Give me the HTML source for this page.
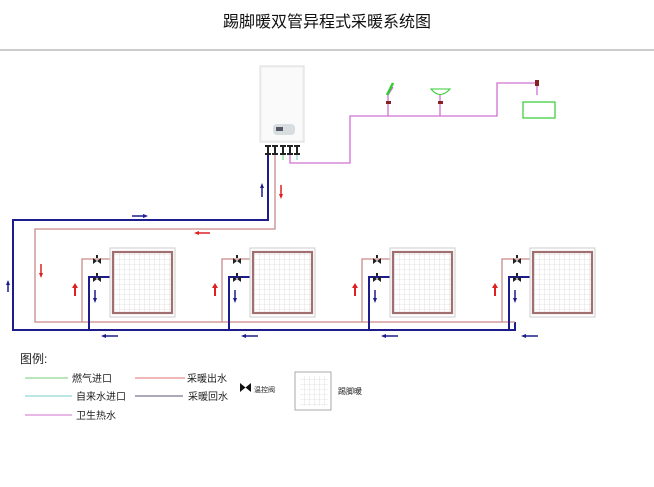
<!DOCTYPE html>
<html><head><meta charset="utf-8"><style>
body{margin:0;background:#fff;width:654px;height:487px;overflow:hidden}
svg{display:block}
text{font-family:"Liberation Sans","Noto Sans CJK SC",sans-serif}
</style></head><body>
<svg width="654" height="487" viewBox="0 0 654 487" xmlns="http://www.w3.org/2000/svg">
<defs>
<pattern id="g" width="5" height="5" patternUnits="userSpaceOnUse"><path d="M5 0V5M0 5H5" stroke="#ccc" stroke-width="0.6" fill="none"/></pattern>
<g id="valve"><path d="M-4 -3 L4 3 L4 -3 L-4 3Z" fill="#222"/><rect x="-1" y="-6" width="2" height="3" fill="#222"/></g>
<g id="rad">
<path d="M82 322 V259 H110" stroke="#c98a8a" stroke-width="1.3" fill="none"/>
<path d="M89 330 V277 H112 V282" stroke="#1c1c8c" stroke-width="2" fill="none"/>
<use href="#valve" x="97" y="261"/>
<use href="#valve" x="97" y="279"/>
<rect x="110" y="248" width="65" height="69" fill="#fff" stroke="#ccc" stroke-width="1"/>
<rect x="113" y="252" width="59" height="61" fill="url(#g)" stroke="#a07070" stroke-width="2.2"/>
<path d="M75 296 V285" stroke="#e02020" stroke-width="2"/><path d="M72 288 L75 283 L78 288Z" fill="#e02020"/>
<path d="M95 290 V300" stroke="#1c1c8c" stroke-width="1.5"/><path d="M93 298 L95 303 L97 298Z" fill="#1c1c8c"/>
<path d="M103 336 H118" stroke="#1c1c8c" stroke-width="1.5"/><path d="M106 334 L101 336 L106 338Z" fill="#1c1c8c"/>
</g>
</defs>
<text x="327" y="27" font-size="16" text-anchor="middle" fill="#111">踢脚暖双管异程式采暖系统图</text>
<line x1="0" y1="50" x2="654" y2="50" stroke="#999" stroke-width="1"/>
<!-- boiler -->
<rect x="260" y="66" width="44" height="76" fill="#f3f3f3" stroke="#ddd"/>
<rect x="262" y="68" width="40" height="72" fill="#fafafa"/>
<rect x="273" y="124" width="22" height="11" rx="4" fill="#d8dde0"/>
<rect x="276" y="127" width="7" height="4" fill="#556"/>
<!-- heating pipes -->
<path d="M268 150 V220 H13 V330 H515 V322" stroke="#1c1c8c" stroke-width="2" fill="none"/>
<path d="M275 150 V229 H35 V322 H515" stroke="#c98a8a" stroke-width="1.3" fill="none"/>
<use href="#rad"/>
<use href="#rad" x="140"/>
<use href="#rad" x="280"/>
<use href="#rad" x="420"/>
<!-- boiler fittings -->
<path d="M283 150 V160" stroke="#6c6" stroke-width="1"/>
<path d="M290 150 V163 H350 V116 H497 V83 H537 V95" stroke="#d070d0" stroke-width="1.3" fill="none"/>
<path d="M297 150 V160" stroke="#6cc" stroke-width="1"/>
<g fill="#222"><rect x="265" y="145" width="6" height="2"/><rect x="265" y="153" width="6" height="2"/><rect x="267" y="145" width="2" height="10"/>
<rect x="272" y="145" width="6" height="2"/><rect x="272" y="153" width="6" height="2"/><rect x="274" y="145" width="2" height="10"/>
<rect x="280" y="145" width="6" height="2"/><rect x="280" y="153" width="6" height="2"/><rect x="282" y="145" width="2" height="10"/>
<rect x="287" y="145" width="6" height="2"/><rect x="287" y="153" width="6" height="2"/><rect x="289" y="145" width="2" height="10"/>
<rect x="294" y="145" width="6" height="2"/><rect x="294" y="153" width="6" height="2"/><rect x="296" y="145" width="2" height="10"/></g>
<!-- arrows on main -->
<path d="M262 197 V185" stroke="#1c1c8c" stroke-width="1.5"/><path d="M260 188 L262 183 L264 188Z" fill="#1c1c8c"/>
<path d="M281 185 V197" stroke="#e02020" stroke-width="1.5"/><path d="M279 194 L281 199 L283 194Z" fill="#e02020"/>
<path d="M132 216 H145" stroke="#1c1c8c" stroke-width="1.5"/><path d="M143 214 L148 216 L143 218Z" fill="#1c1c8c"/>
<path d="M196 233 H210" stroke="#e02020" stroke-width="1.5"/><path d="M199 231 L194 233 L199 235Z" fill="#e02020"/>
<path d="M41 264 V276" stroke="#e02020" stroke-width="1.5"/><path d="M39 273 L41 278 L43 273Z" fill="#e02020"/>
<path d="M8 292 V282" stroke="#1c1c8c" stroke-width="1.5"/><path d="M6 285 L8 280 L10 285Z" fill="#1c1c8c"/>
<!-- fixtures -->
<path d="M388 116 V95 L393 87" stroke="#d070d0" stroke-width="1.3" fill="none"/>
<path d="M387 95 L393 83" stroke="#3c3" stroke-width="2.5"/>
<rect x="386" y="101" width="5" height="3" fill="#822"/>
<path d="M440 116 V95" stroke="#d070d0" stroke-width="1.3"/>
<path d="M431 89 Q440 100 450 89Z" fill="none" stroke="#3c3" stroke-width="1"/>
<rect x="438" y="101" width="5" height="3" fill="#822"/>
<rect x="523" y="102" width="32" height="16" fill="none" stroke="#3c3" stroke-width="1.2"/>
<rect x="535" y="80" width="4" height="6" fill="#822"/>
<!-- legend -->
<text x="20" y="363" font-size="12" fill="#222">图例:</text>
<line x1="25" y1="378" x2="68" y2="378" stroke="#7c7" stroke-width="1"/><text x="72" y="382" font-size="10" fill="#222">燃气进口</text>
<line x1="25" y1="396" x2="72" y2="396" stroke="#7cc" stroke-width="1"/><text x="76" y="400" font-size="10" fill="#222">自来水进口</text>
<line x1="25" y1="415" x2="72" y2="415" stroke="#d070d0" stroke-width="1"/><text x="76" y="419" font-size="10" fill="#222">卫生热水</text>
<line x1="135" y1="378" x2="185" y2="378" stroke="#e07070" stroke-width="1"/><text x="187" y="382" font-size="10" fill="#222">采暖出水</text>
<line x1="135" y1="396" x2="183" y2="396" stroke="#557" stroke-width="1"/><text x="188" y="400" font-size="10" fill="#222">采暖回水</text>
<path d="M240 383 L251 392 L251 383 L240 392Z" fill="#111"/><text x="254" y="392" font-size="7" fill="#222">温控阀</text>
<rect x="295" y="372" width="36" height="38" fill="#fff" stroke="#aaa"/>
<rect x="300" y="376" width="28" height="30" fill="url(#g)"/>
<text x="338" y="394" font-size="8" fill="#222">踢脚暖</text>
</svg>
</body></html>
